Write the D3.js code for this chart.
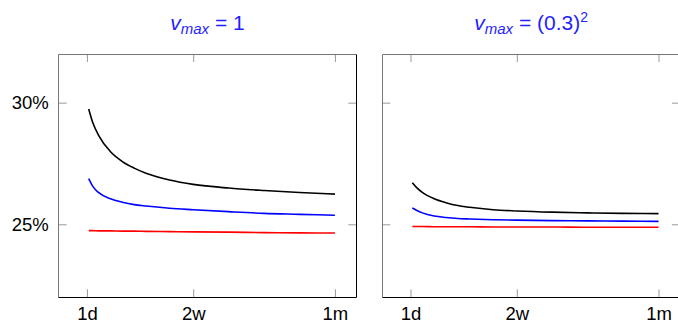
<!DOCTYPE html>
<html>
<head>
<meta charset="utf-8">
<script src="https://cdn.jsdelivr.net/npm/d3@7"></script>
<style>
  body { margin: 0; background: #fff; }
  svg { display: block; font-family: "Liberation Sans", sans-serif; }
</style>
</head>
<body>
<svg id="chart" width="678" height="322"></svg>
<script>
// maturity in trading days
var xDays = [1.15, 1.5, 2, 3, 4, 5, 6, 8, 10, 13, 16, 19, 22]

// implied vol (%), v_max = 1
var leftBlack = [29.74, 29.17, 28.65, 27.98, 27.58, 27.31, 27.10, 26.82, 26.64, 26.49, 26.39, 26.31, 26.24]
var leftBlue  = [26.88, 26.56, 26.30, 26.05, 25.91, 25.81, 25.75, 25.66, 25.60, 25.52, 25.45, 25.41, 25.37]
var leftRed   = [24.74, 24.74, 24.73, 24.73, 24.72, 24.72, 24.71, 24.70, 24.69, 24.68, 24.66, 24.65, 24.64]

// v_max = (0.3)^2
var rightBlack = [26.71, 26.52, 26.31, 26.05, 25.89, 25.77, 25.70, 25.60, 25.55, 25.50, 25.47, 25.45, 25.44]
var rightBlue  = [25.67, 25.58, 25.47, 25.34, 25.28, 25.24, 25.22, 25.19, 25.17, 25.15, 25.14, 25.13, 25.12]
var rightRed   = [24.91, 24.91, 24.91, 24.90, 24.90, 24.90, 24.90, 24.89, 24.89, 24.89, 24.88, 24.88, 24.88]

var xTickVals = [1, 10, 22]
var xTickLabels = ['1d', '2w', '1m']
var yTickVals = [25, 30]
var seriesColors = ['#000', '#0000ff', '#ff0000']

var panels = [
    { left: 58.7, title: [['v', 'it'], ['max', 'sub'], [' = 1', 'up']], series: [leftBlack, leftBlue, leftRed], yLabels: true },
    { left: 382.3, title: [['v', 'it'], ['max', 'sub'], [' = (0.3)', 'up'], ['2', 'sup']], series: [rightBlack, rightBlue, rightRed], yLabels: false },
]

var dim = { top: 54, width: 297.6, height: 243.3, tick: 8 }

var x = d3.scaleLinear().domain([-1.39, 23.81]).range([0, dim.width])
var y = d3.scaleLinear().domain([22, 32]).range([dim.height, 0])

var line = d3.line()
    .x((d, i) => x(xDays[i]))
    .y(d => y(d))
    .curve(d3.curveMonotoneX)

var svg = d3.select('#chart')

panels.forEach(p => {
    var g = svg.append('g').attr('transform', `translate(${p.left},${dim.top})`)

    // title
    var t = svg.append('text')
        .attr('x', p.left + dim.width / 2)
        .attr('y', 30)
        .attr('text-anchor', 'middle')
        .attr('fill', '#1f1fff')
        .attr('font-size', 21)
        .style('white-space', 'pre')
    p.title.forEach(part => {
        var ts = t.append('tspan').text(part[0])
        if (part[1] == 'it') ts.attr('font-style', 'italic')
        if (part[1] == 'sub') ts.attr('font-style', 'italic').attr('font-size', 15).attr('dy', 4)
        if (part[1] == 'up') ts.attr('dy', -4)
        if (part[1] == 'sup') ts.attr('font-size', 14).attr('dy', -8)
    })

    // curves
    g.selectAll('path.curve')
        .data(p.series)
        .join('path')
        .attr('class', 'curve')
        .attr('fill', 'none')
        .attr('stroke', (d, i) => seriesColors[i])
        .attr('stroke-width', 1.6)
        .attr('d', line)

    // inward ticks on all four sides
    var xb = d3.axisBottom(x).tickValues(xTickVals)
        .tickFormat((d, i) => xTickLabels[i])
        .tickSizeInner(-dim.tick).tickSizeOuter(0).tickPadding(10)
    var xt = d3.axisTop(x).tickValues(xTickVals).tickFormat('')
        .tickSizeInner(-dim.tick).tickSizeOuter(0)
    var yl = d3.axisLeft(y).tickValues(yTickVals)
        .tickFormat(d => p.yLabels ? d + '%' : '')
        .tickSizeInner(-dim.tick).tickSizeOuter(0).tickPadding(10)
    var yr = d3.axisRight(y).tickValues(yTickVals).tickFormat('')
        .tickSizeInner(-dim.tick).tickSizeOuter(0)

    var axes = [
        g.append('g').attr('transform', `translate(0,${dim.height})`).call(xb),
        g.append('g').call(xt),
        g.append('g').call(yl),
        g.append('g').attr('transform', `translate(${dim.width},0)`).call(yr),
    ]
    axes.forEach(a => {
        a.select('.domain').remove()
        a.selectAll('line').attr('stroke', '#999')
        a.selectAll('text').attr('fill', '#000').attr('font-size', 18.5)
            .attr('font-family', '"Liberation Sans", sans-serif')
    })

    // frame: left/top come out grey in the reference, right/bottom black
    var L = Math.floor(p.left) + 0.5, T = dim.top + 0.5
    var R = Math.floor(p.left + dim.width) + 0.5, B = Math.floor(dim.top + dim.height) + 0.5
    svg.append('path').attr('d', `M${L},${B}V${T}H${R}`)
        .attr('fill', 'none').attr('stroke', '#777').attr('stroke-width', 1)
    svg.append('path').attr('d', `M${L},${B}H${R}V${T}`)
        .attr('fill', 'none').attr('stroke', '#000').attr('stroke-width', 1)
})
</script>
</body>
</html>
